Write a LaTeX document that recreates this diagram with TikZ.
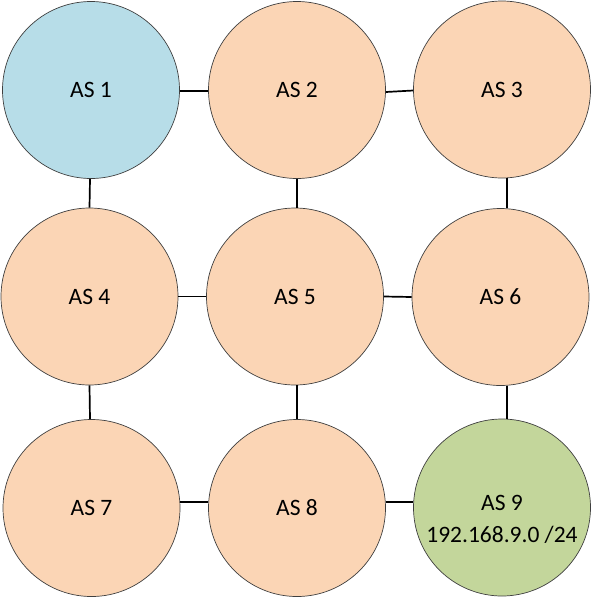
\documentclass[tikz,border=0pt]{standalone}
\usepackage{fontspec}
\setmainfont{Carlito}
\usepackage{tikz}
\definecolor{asblue}{HTML}{B7DDE8}
\definecolor{aspeach}{HTML}{FBD5B5}
\definecolor{asgreen}{HTML}{C3D69B}
\definecolor{asedge}{HTML}{3F3F3F}
\usetikzlibrary{calc}
\tikzset{as/.style={
    circle,
    minimum size=177pt,
    inner sep=0pt,
    draw=asedge,
    line width=0.7pt,
    font=\fontsize{23.5}{32}\selectfont},
  link/.style={
    line width=1.7pt}}

\begin{document}
\begin{tikzpicture}[x=1pt, y=1pt]
  \useasboundingbox (0,0) rectangle (592,-598);
\coordinate (P1) at (91,-90);
\coordinate (P2) at (297,-90);
\coordinate (P3) at (502,-89.5);
\coordinate (P4) at (89.5,-296.5);
\coordinate (P5) at (295,-296.5);
\coordinate (P6) at (500.5,-297);
\coordinate (P7) at (91.5,-508);
\coordinate (P8) at (297,-508);
\coordinate (P9) at (502,-507.5);

% the nine autonomous systems
\node[as,
  fill=asblue] (AS1) at (P1) {AS 1};
\node[as,
  fill=aspeach] (AS2) at (P2) {AS 2};
\node[as,
  fill=aspeach] (AS3) at (P3) {AS 3};
\node[as,
  fill=aspeach] (AS4) at (P4) {AS 4};
\node[as,
  fill=aspeach] (AS5) at (P5) {AS 5};
\node[as,
  fill=aspeach] (AS6) at (P6) {AS 6};
\node[as,
  fill=aspeach] (AS7) at (P7) {AS 7};
\node[as,
  fill=aspeach] (AS8) at (P8) {AS 8};
\node[as,
  fill=asgreen] (AS9) at (P9) {};
\node[align=center,
  font=\fontsize{23.5}{32}\selectfont] (AS9net) at ($(P9)+(0,-12)$) {AS 9\\192.168.9.0 /24};

% links
\draw[link] ([yshift=-1]AS1.east) -- ([yshift=-1]AS2.west);
\draw[link] ([yshift=-2]AS2.east) -- ([yshift=-1]AS3.west);
\draw[link] (AS4.east) -- (AS5.west);
\draw[link] (AS5.east) -- (AS6.west);
\draw[link] ([yshift=6]AS7.east) -- ([yshift=6]AS8.west);
\draw[link] ([yshift=6]AS8.east) -- ([yshift=5.5]AS9.west);

\draw[link] ([xshift=-1]AS1.south) -- (AS4.north);
\draw[link] (AS2.south) -- ([xshift=2]AS5.north);
\draw[link] ([xshift=5]AS3.south) -- ([xshift=6.5]AS6.north);
\draw[link] (AS4.south) -- ([xshift=-1.5]AS7.north);
\draw[link] ([xshift=2]AS5.south) -- (AS8.north);
\draw[link] ([xshift=6.5]AS6.south) -- ([xshift=5]AS9.north);

\end{tikzpicture}
\end{document}
